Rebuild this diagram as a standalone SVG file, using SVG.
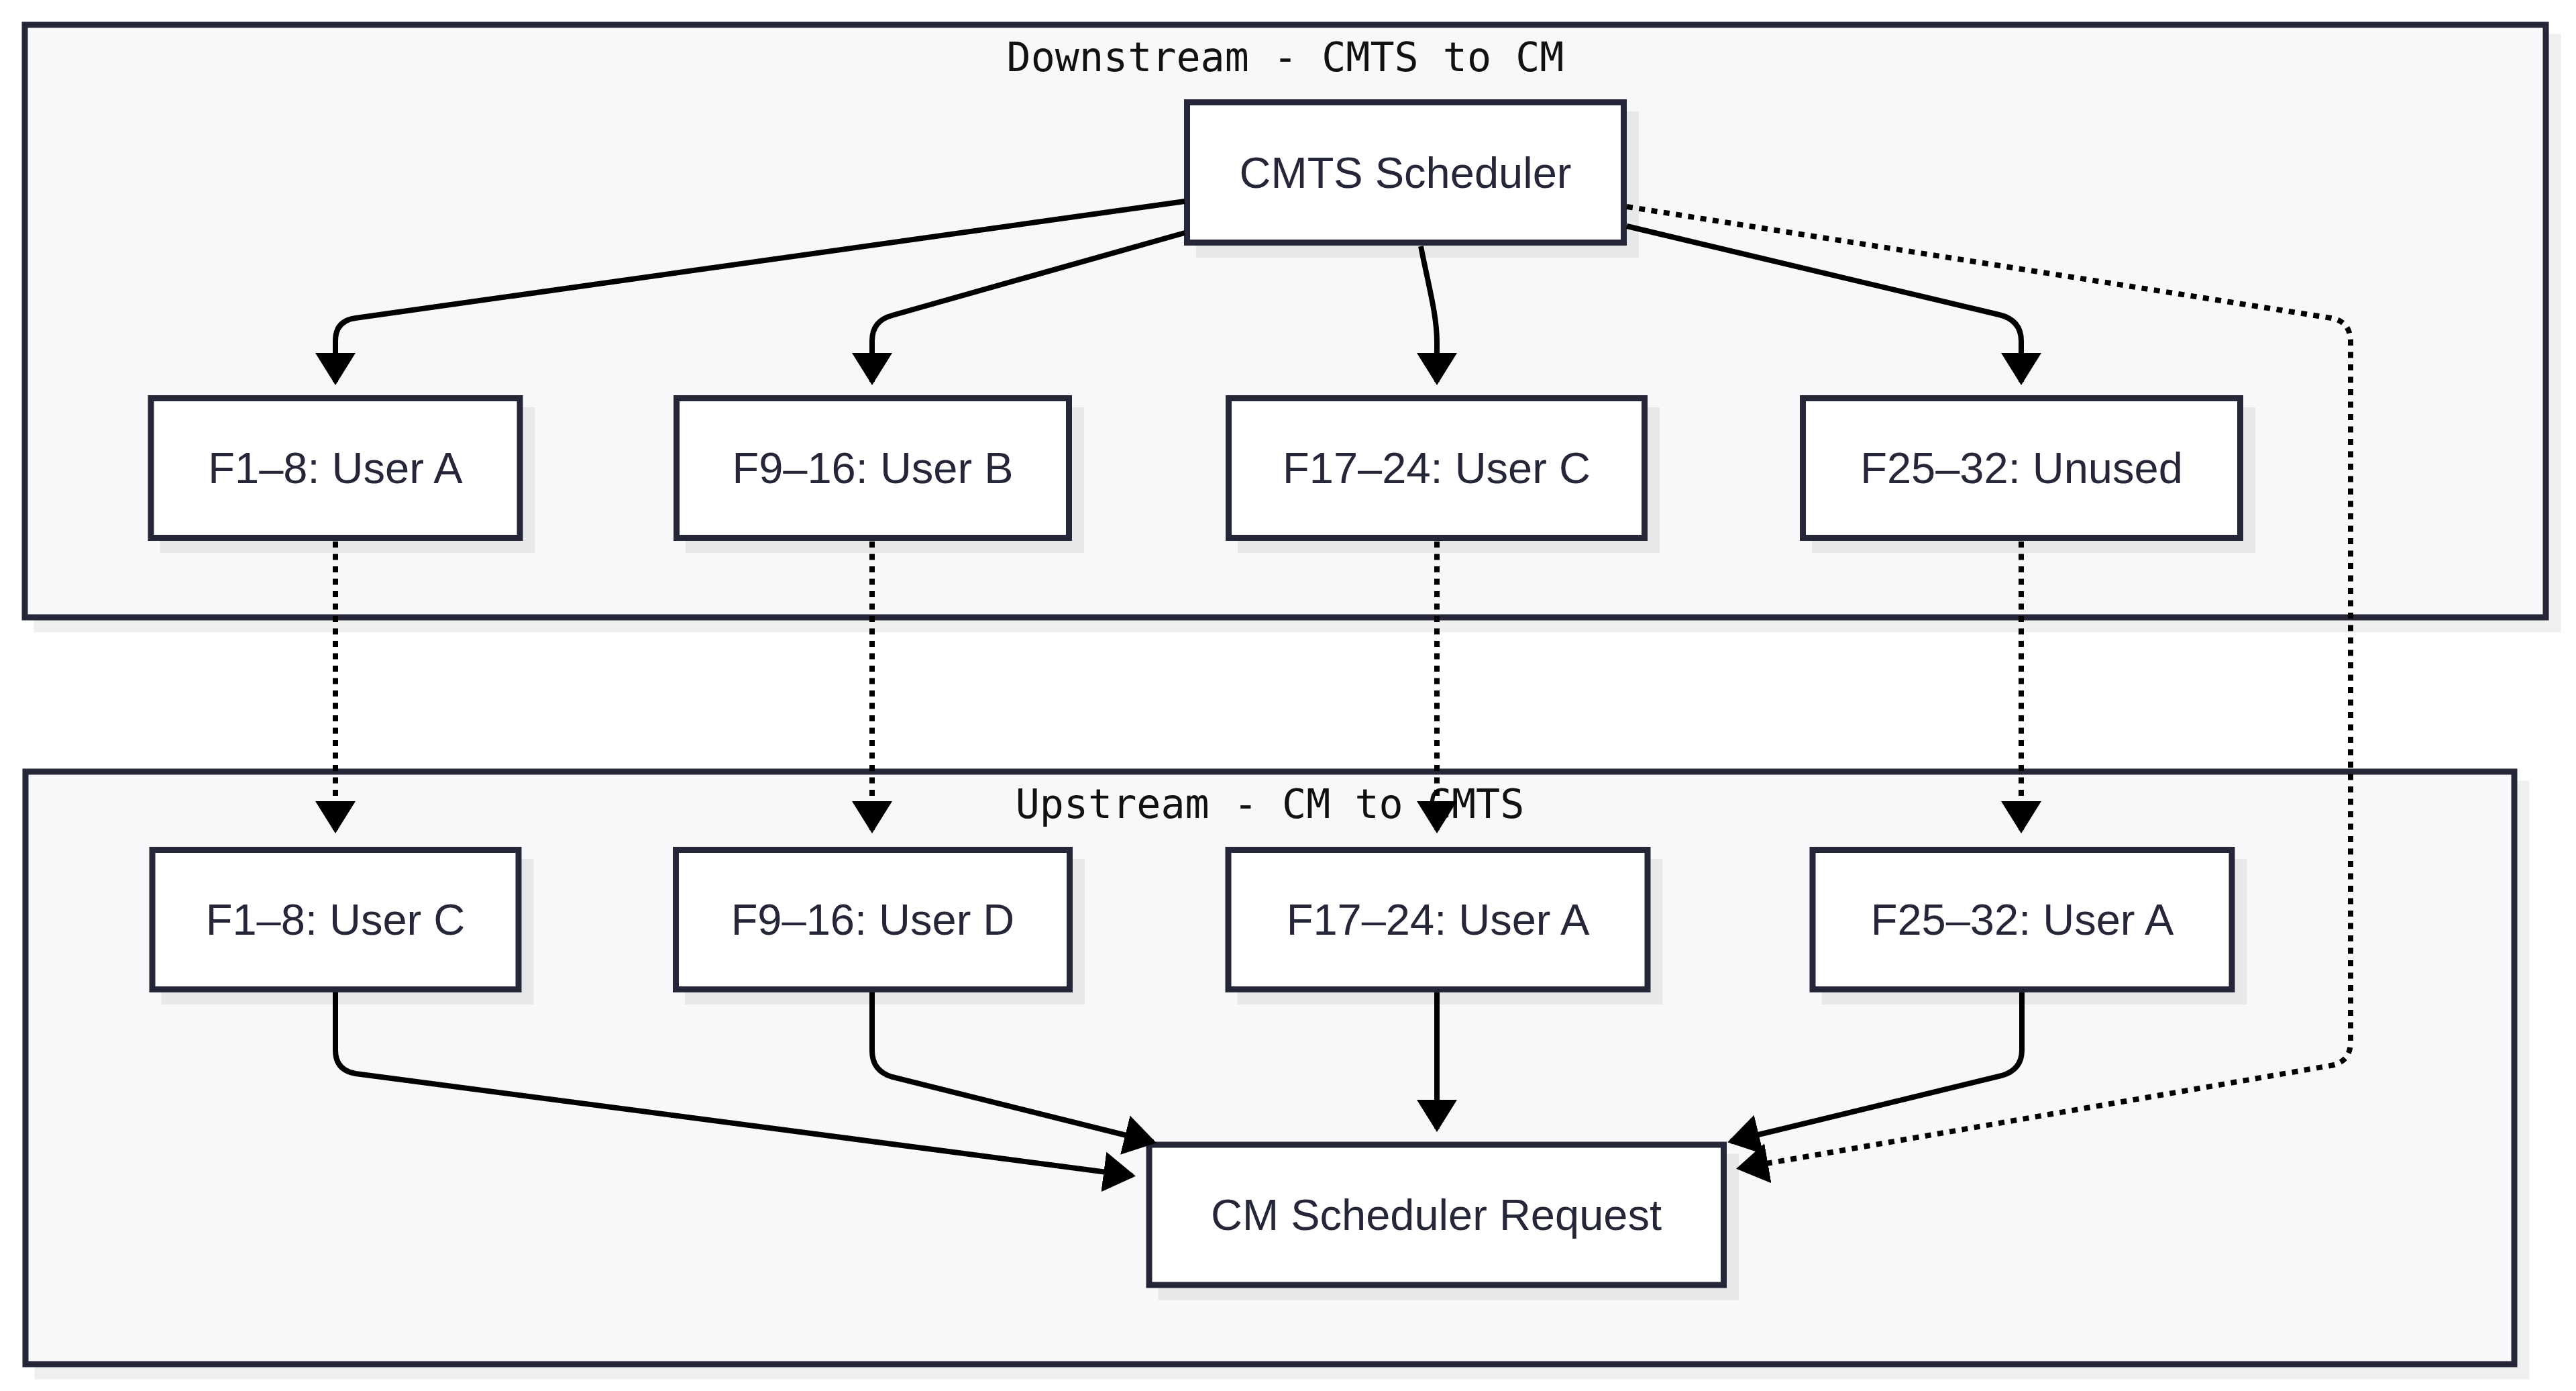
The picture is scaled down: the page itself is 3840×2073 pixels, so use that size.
<svg xmlns="http://www.w3.org/2000/svg" width="3840" height="2073" viewBox="0 0 3840 2073">
<defs>
<style>
.bg{fill:#ffffff}
.cl{fill:#f8f8fa;stroke:#262639;stroke-width:9}
.cls{fill:#efeff0}
.ct{font-family:"DejaVu Sans Mono","Liberation Mono",monospace;font-size:60px;fill:#111111;text-anchor:middle}
.nd{fill:#ffffff;stroke:#262639;stroke-width:9}
.nds{fill:#e8e8eb}
.nt{font-family:"Liberation Sans",Arial,sans-serif;font-size:65px;fill:#262639;text-anchor:middle}
.e{fill:none;stroke:#000000;stroke-width:8;marker-end:url(#ah)}
.d{fill:none;stroke:#000000;stroke-width:8;stroke-dasharray:9 9.5;marker-end:url(#ah)}
</style>
<marker id="ah" markerUnits="userSpaceOnUse" viewBox="0 0 48 60" markerWidth="48" markerHeight="60" refX="43" refY="30" orient="auto">
<path d="M0,0 L48,30 L0,60 z" fill="#000000"/>
</marker>
</defs>
<rect class="bg" x="0" y="0" width="3840" height="2073"/>
<g id="cluster-downstream">
<rect class="cls" x="50.5" y="50.5" width="3767" height="892"/>
<rect class="cl" x="37" y="37" width="3758" height="883"/>
<text class="ct" x="1916" y="106">Downstream - CMTS to CM</text>
</g>
<g id="cluster-upstream">
<rect class="cls" x="51.5" y="1163.5" width="3719" height="892"/>
<rect class="cl" x="38" y="1150" width="3710" height="883"/>
<text class="ct" x="1893" y="1219">Upstream - CM to CMTS</text>
</g>
<g id="node-cmts">
<rect class="nds" x="1783" y="166" width="660" height="218"/>
<rect class="nd" x="1769.5" y="152.5" width="651" height="209"/>
<text class="nt" x="2095" y="280">CMTS Scheduler</text>
</g>
<g id="node-ds-a">
<rect class="nds" x="238.5" y="607" width="559" height="217"/>
<rect class="nd" x="225" y="593.5" width="550" height="208"/>
<text class="nt" x="500" y="720">F1–8: User A</text>
</g>
<g id="node-ds-b">
<rect class="nds" x="1022" y="607" width="594" height="217"/>
<rect class="nd" x="1008.5" y="593.5" width="585" height="208"/>
<text class="nt" x="1301" y="720">F9–16: User B</text>
</g>
<g id="node-ds-c">
<rect class="nds" x="1845" y="607" width="629" height="217"/>
<rect class="nd" x="1831.5" y="593.5" width="620" height="208"/>
<text class="nt" x="2141.5" y="720">F17–24: User C</text>
</g>
<g id="node-ds-unused">
<rect class="nds" x="2701" y="607" width="661" height="217"/>
<rect class="nd" x="2687.5" y="593.5" width="652" height="208"/>
<text class="nt" x="3013.5" y="720">F25–32: Unused</text>
</g>
<g id="node-us-c">
<rect class="nds" x="240.5" y="1280" width="555" height="217"/>
<rect class="nd" x="227" y="1266.5" width="546" height="208"/>
<text class="nt" x="500" y="1393">F1–8: User C</text>
</g>
<g id="node-us-d">
<rect class="nds" x="1021" y="1280" width="596" height="217"/>
<rect class="nd" x="1007.5" y="1266.5" width="587" height="208"/>
<text class="nt" x="1301" y="1393">F9–16: User D</text>
</g>
<g id="node-us-a1">
<rect class="nds" x="1844.5" y="1280" width="634" height="217"/>
<rect class="nd" x="1831" y="1266.5" width="625" height="208"/>
<text class="nt" x="2143.5" y="1393">F17–24: User A</text>
</g>
<g id="node-us-a2">
<rect class="nds" x="2715.5" y="1280" width="634" height="217"/>
<rect class="nd" x="2702" y="1266.5" width="625" height="208"/>
<text class="nt" x="3014.5" y="1393">F25–32: User A</text>
</g>
<g id="node-cm-request">
<rect class="nds" x="1726.5" y="1719.5" width="865.5" height="218"/>
<rect class="nd" x="1713" y="1706" width="856.5" height="209"/>
<text class="nt" x="2141" y="1833">CM Scheduler Request</text>
</g>
<g id="connectors">
<path class="e" d="M1766,300 L530,474 Q500,478 500,508 L500,569"/>
<path class="e" d="M1766,347 L1330,470 Q1300,478 1300,508 L1300,569"/>
<path class="e" d="M2118,367 C2130,428 2142,470 2142,510 L2142,569"/>
<path class="e" d="M2425,337 L2980,469 Q3013,477 3013,508 L3013,569"/>
<path class="d" d="M2425,308 L3475,474 Q3504,479 3504,510 L3504,1552 Q3504,1583 3474,1588 L2593,1741"/>
<path class="d" d="M500,807 L500,1237"/>
<path class="d" d="M1300,807 L1300,1237"/>
<path class="d" d="M2142,807 L2142,1237"/>
<path class="d" d="M3013,807 L3013,1237"/>
<path class="e" d="M500,1479 L500,1565 Q500,1595 530,1600 L1688,1752"/>
<path class="e" d="M1300,1479 L1300,1566 Q1300,1596 1330,1605 L1719,1702"/>
<path class="e" d="M2142,1479 L2142,1682"/>
<path class="e" d="M3014,1479 L3014,1565 Q3014,1594 2984,1603 L2580,1701"/>
</g>
</svg>
